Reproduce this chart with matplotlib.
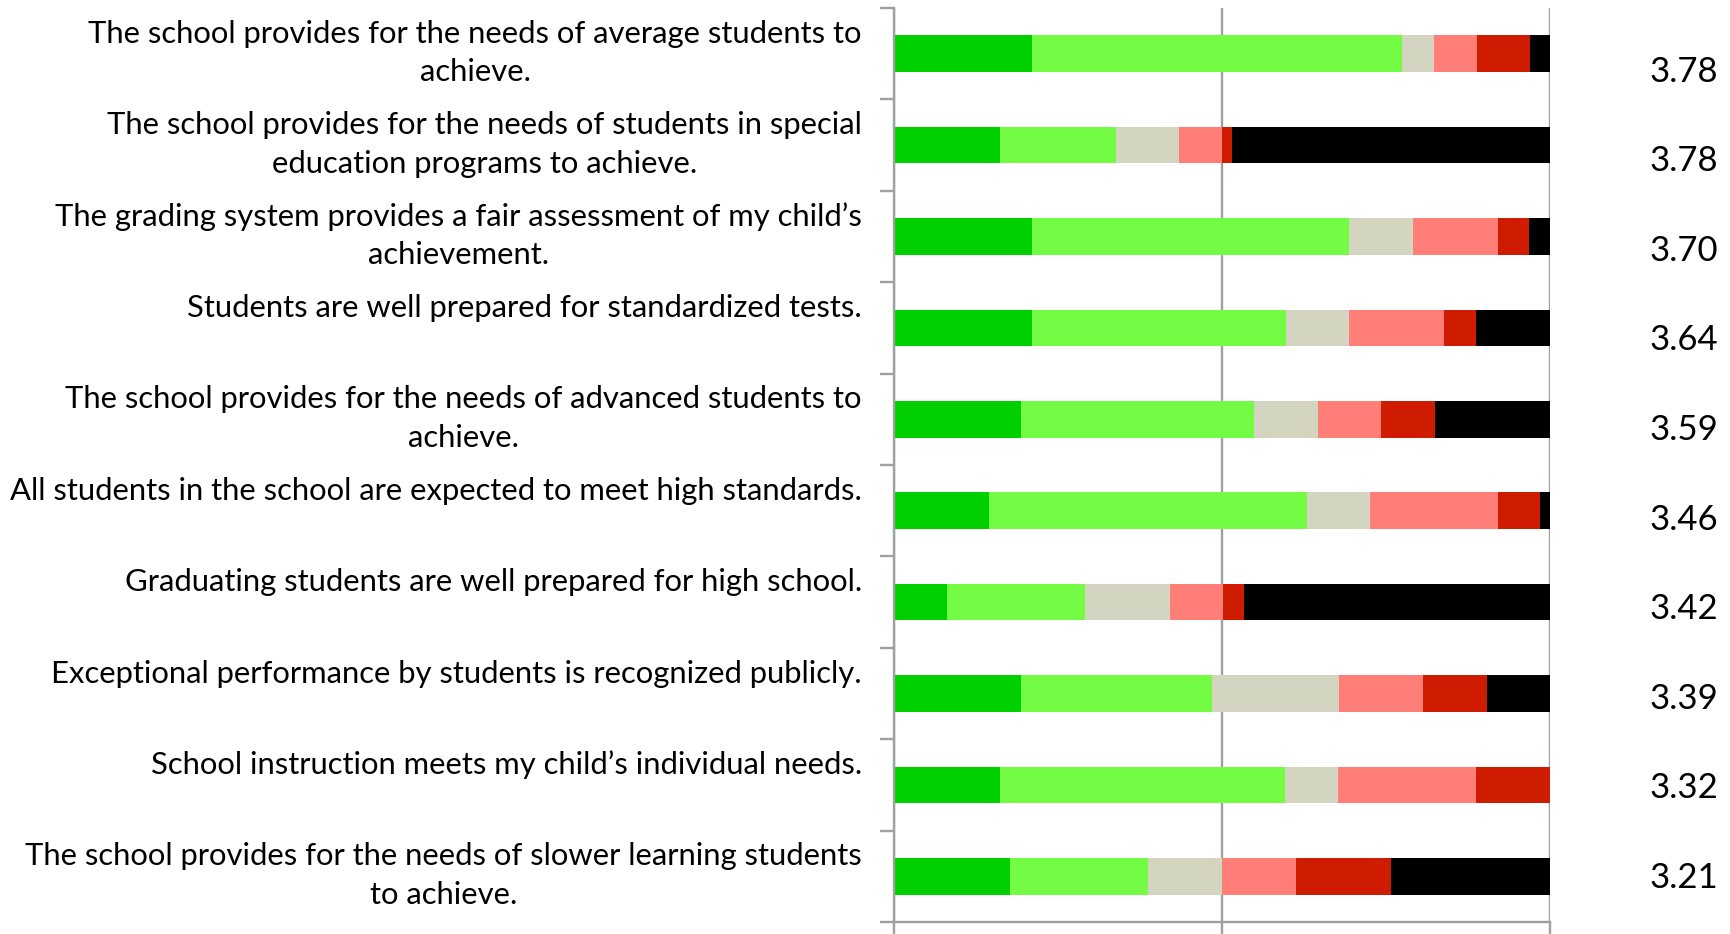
import numpy as np
import matplotlib
matplotlib.use("Agg")
import matplotlib.pyplot as plt
from matplotlib.transforms import blended_transform_factory

# ---- data (percent of responses) ----
questions = [
    "The school provides for the needs of average students to\nachieve.",
    "The school provides for the needs of students in special\neducation programs to achieve.",
    "The grading system provides a fair assessment of my child\u2019s\nachievement.",
    "Students are well prepared for standardized tests.",
    "The school provides for the needs of advanced students to\nachieve.",
    "All students in the school are expected to meet high standards.",
    "Graduating students are well prepared for high school.",
    "Exceptional performance by students is recognized publicly.",
    "School instruction meets my child\u2019s individual needs.",
    "The school provides for the needs of slower learning students\nto achieve.",
]
strongly_agree    = [21.0, 16.1, 21.0, 21.0, 19.4, 14.5,  8.1, 19.4, 16.1, 17.7]
agree             = [56.5, 17.7, 48.4, 38.7, 35.5, 48.4, 21.0, 29.0, 43.5, 21.0]
neutral           = [ 4.8,  9.7,  9.7,  9.7,  9.7,  9.7, 12.9, 19.4,  8.1, 11.3]
disagree          = [ 6.5,  6.5, 12.9, 14.5,  9.7, 19.4,  8.1, 12.9, 21.0, 11.3]
strongly_disagree = [ 8.1,  1.6,  4.8,  4.8,  8.1,  6.5,  3.2,  9.7, 11.3, 14.5]
dont_know         = [ 3.2, 48.4,  3.2, 11.3, 17.7,  1.6, 46.8,  9.7,  0.0, 24.2]
averages = ["3.78", "3.78", "3.70", "3.64", "3.59", "3.46", "3.42", "3.39", "3.32", "3.21"]

series = [strongly_agree, agree, neutral, disagree, strongly_disagree, dont_know]
colors = ["#00D000", "#74FC44", "#D4D5C1", "#FF7F78", "#CF1C00", "#000000"]

W, H = 1731, 934
fig = plt.figure(figsize=(W / 100, H / 100), dpi=100)
fig.patch.set_facecolor("white")

ax_l, ax_r, ax_t, ax_b = 894.0, 1550.0, 8.0, 922.0
ax = fig.add_axes([ax_l / W, 1 - ax_b / H, (ax_r - ax_l) / W, (ax_b - ax_t) / H])

y = np.arange(len(questions))
left = np.zeros(len(questions))
for vals, c in zip(series, colors):
    vals = np.asarray(vals)
    ax.barh(y, vals, left=left, height=0.4, color=c, linewidth=0)
    left += vals

grey = "#A0A0A0"
ax.set_xlim(0, 100)
ax.set_ylim(len(questions) - 0.5, -0.5)
ax.set_xticks([0, 50, 100])
ax.set_xticklabels([])
ax.set_yticks(np.arange(-0.5, len(questions), 1))
ax.set_yticklabels([])
ax.tick_params(axis="x", length=12, width=1.7, color=grey, direction="out")
ax.tick_params(axis="y", length=10, width=1.7, color=grey, direction="out")
ax.xaxis.grid(True, color=grey, linewidth=1.7)
ax.set_axisbelow(True)
for s in ["top", "right"]:
    ax.spines[s].set_visible(False)
for s in ["left", "bottom"]:
    ax.spines[s].set_color(grey)
    ax.spines[s].set_linewidth(1.7)

# category labels to the left (first line right-aligned, second line centred under it)
trans = blended_transform_factory(ax.transAxes, ax.transData)
xlab = (862 - ax_l) / (ax_r - ax_l)
fs_lab = 22.3
renderer = fig.canvas.get_renderer()
for i, q in enumerate(questions):
    lines = q.split("\n")
    t1 = ax.text(xlab, i - 0.12, lines[0], transform=trans, ha="right", va="baseline",
                 fontsize=fs_lab, family="Lato", color="black")
    if len(lines) > 1:
        bb = t1.get_window_extent(renderer=renderer)
        xc_fig = (bb.x0 + bb.x1) / 2
        xc_ax = ax.transAxes.inverted().transform((xc_fig, 0))[0]
        ax.text(xc_ax, i - 0.12 + 0.422, lines[1], transform=trans, ha="center",
                va="baseline", fontsize=fs_lab, family="Lato", color="black")

# averages column on the right
ax2 = fig.add_axes([1650 / W, 1 - 922.5 / H, 70 / W, (922.5 - 27.0) / H])
ax2.set_ylim(len(averages) - 0.5, -0.5)
ax2.set_xlim(0, 1)
ax2.axis("off")
for i, a in enumerate(averages):
    ax2.text(0, i, a, ha="left", va="center", fontsize=25, family="Lato", color="black")

fig.savefig("out.png", dpi=100, facecolor="white")
